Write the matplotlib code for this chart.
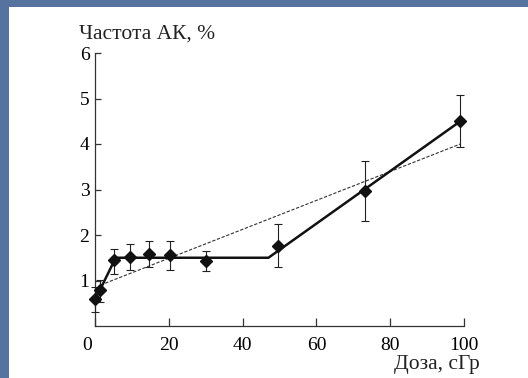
import matplotlib
matplotlib.use("Agg")
import matplotlib.pyplot as plt
from matplotlib.patches import Rectangle
from matplotlib.transforms import ScaledTranslation

# measured points
dose = [0, 1.4, 5.2, 9.5, 14.5, 20.2, 30, 49.6, 73.3, 99]
freq = [0.6, 0.8, 1.44, 1.52, 1.58, 1.56, 1.43, 1.76, 2.96, 4.5]
err_lo = [0.3, 0.27, 0.29, 0.29, 0.28, 0.33, 0.22, 0.46, 0.66, 0.56]
err_hi = [0.25, 0.22, 0.25, 0.28, 0.29, 0.3, 0.22, 0.48, 0.67, 0.57]

# piecewise fit (solid) and linear fit (dashed)
fit_x = [0, 1.4, 5.6, 47, 99]
fit_y = [0.6, 0.8, 1.5, 1.5, 4.5]
lin_x = [1.5, 99]
lin_y = [0.9, 4.0]

xticks = [0, 20, 40, 60, 80, 100]
yticks = [1, 2, 3, 4, 5, 6]

plt.rcParams['font.family'] = ['Liberation Serif', 'DejaVu Serif']

fig = plt.figure(figsize=(5.28, 3.78), dpi=100)
fig.patch.set_facecolor('#56739f')
fig.add_artist(Rectangle((9 / 528, 0), 1, 1 - 7 / 378, transform=fig.transFigure,
                         facecolor='white', edgecolor='none', zorder=0))

ax = fig.add_axes([95 / 528, 1 - 326 / 378, (464 - 95) / 528, (326 - 53) / 378])
ax.set_facecolor('none')

ax.plot(lin_x, lin_y, color='#333333', lw=0.8, dashes=(3, 1.5), zorder=2)
ax.plot(fit_x, fit_y, color='#111111', lw=1.8, solid_joinstyle='miter', zorder=3)
ax.errorbar(dose, freq, yerr=[err_lo, err_hi], fmt='D', color='#111111', ms=6.5,
            ecolor='#222222', elinewidth=0.8, capsize=2.6, capthick=0.8,
            clip_on=False, zorder=4)

ax.set_xlim(0, 100)
ax.set_ylim(0, 6)
ax.set_xticks(xticks)
ax.set_yticks(yticks)
for s in ['top', 'right']:
    ax.spines[s].set_visible(False)
for s in ['left', 'bottom']:
    ax.spines[s].set_linewidth(0.9)
    ax.spines[s].set_color('#333333')
ax.tick_params(direction='in', length=6, width=0.9, color='#333333', labelsize=14)
ax.tick_params(axis='x', pad=8)
ax.tick_params(axis='y', length=4, pad=4)

lbl0 = ax.get_xticklabels()[0]
lbl0.set_transform(lbl0.get_transform() + ScaledTranslation(-8 / 100, 0, fig.dpi_scale_trans))

fig.text(79 / 528, 1 - 34 / 378, 'Частота АК, %', fontsize=15.5, ha='left', va='center', color='#222222')
fig.text(480 / 528, 1 - 365 / 378, 'Доза, сГр', fontsize=15.5, ha='right', va='center', color='#222222')

fig.savefig('out.png', dpi=100, facecolor=fig.get_facecolor())
